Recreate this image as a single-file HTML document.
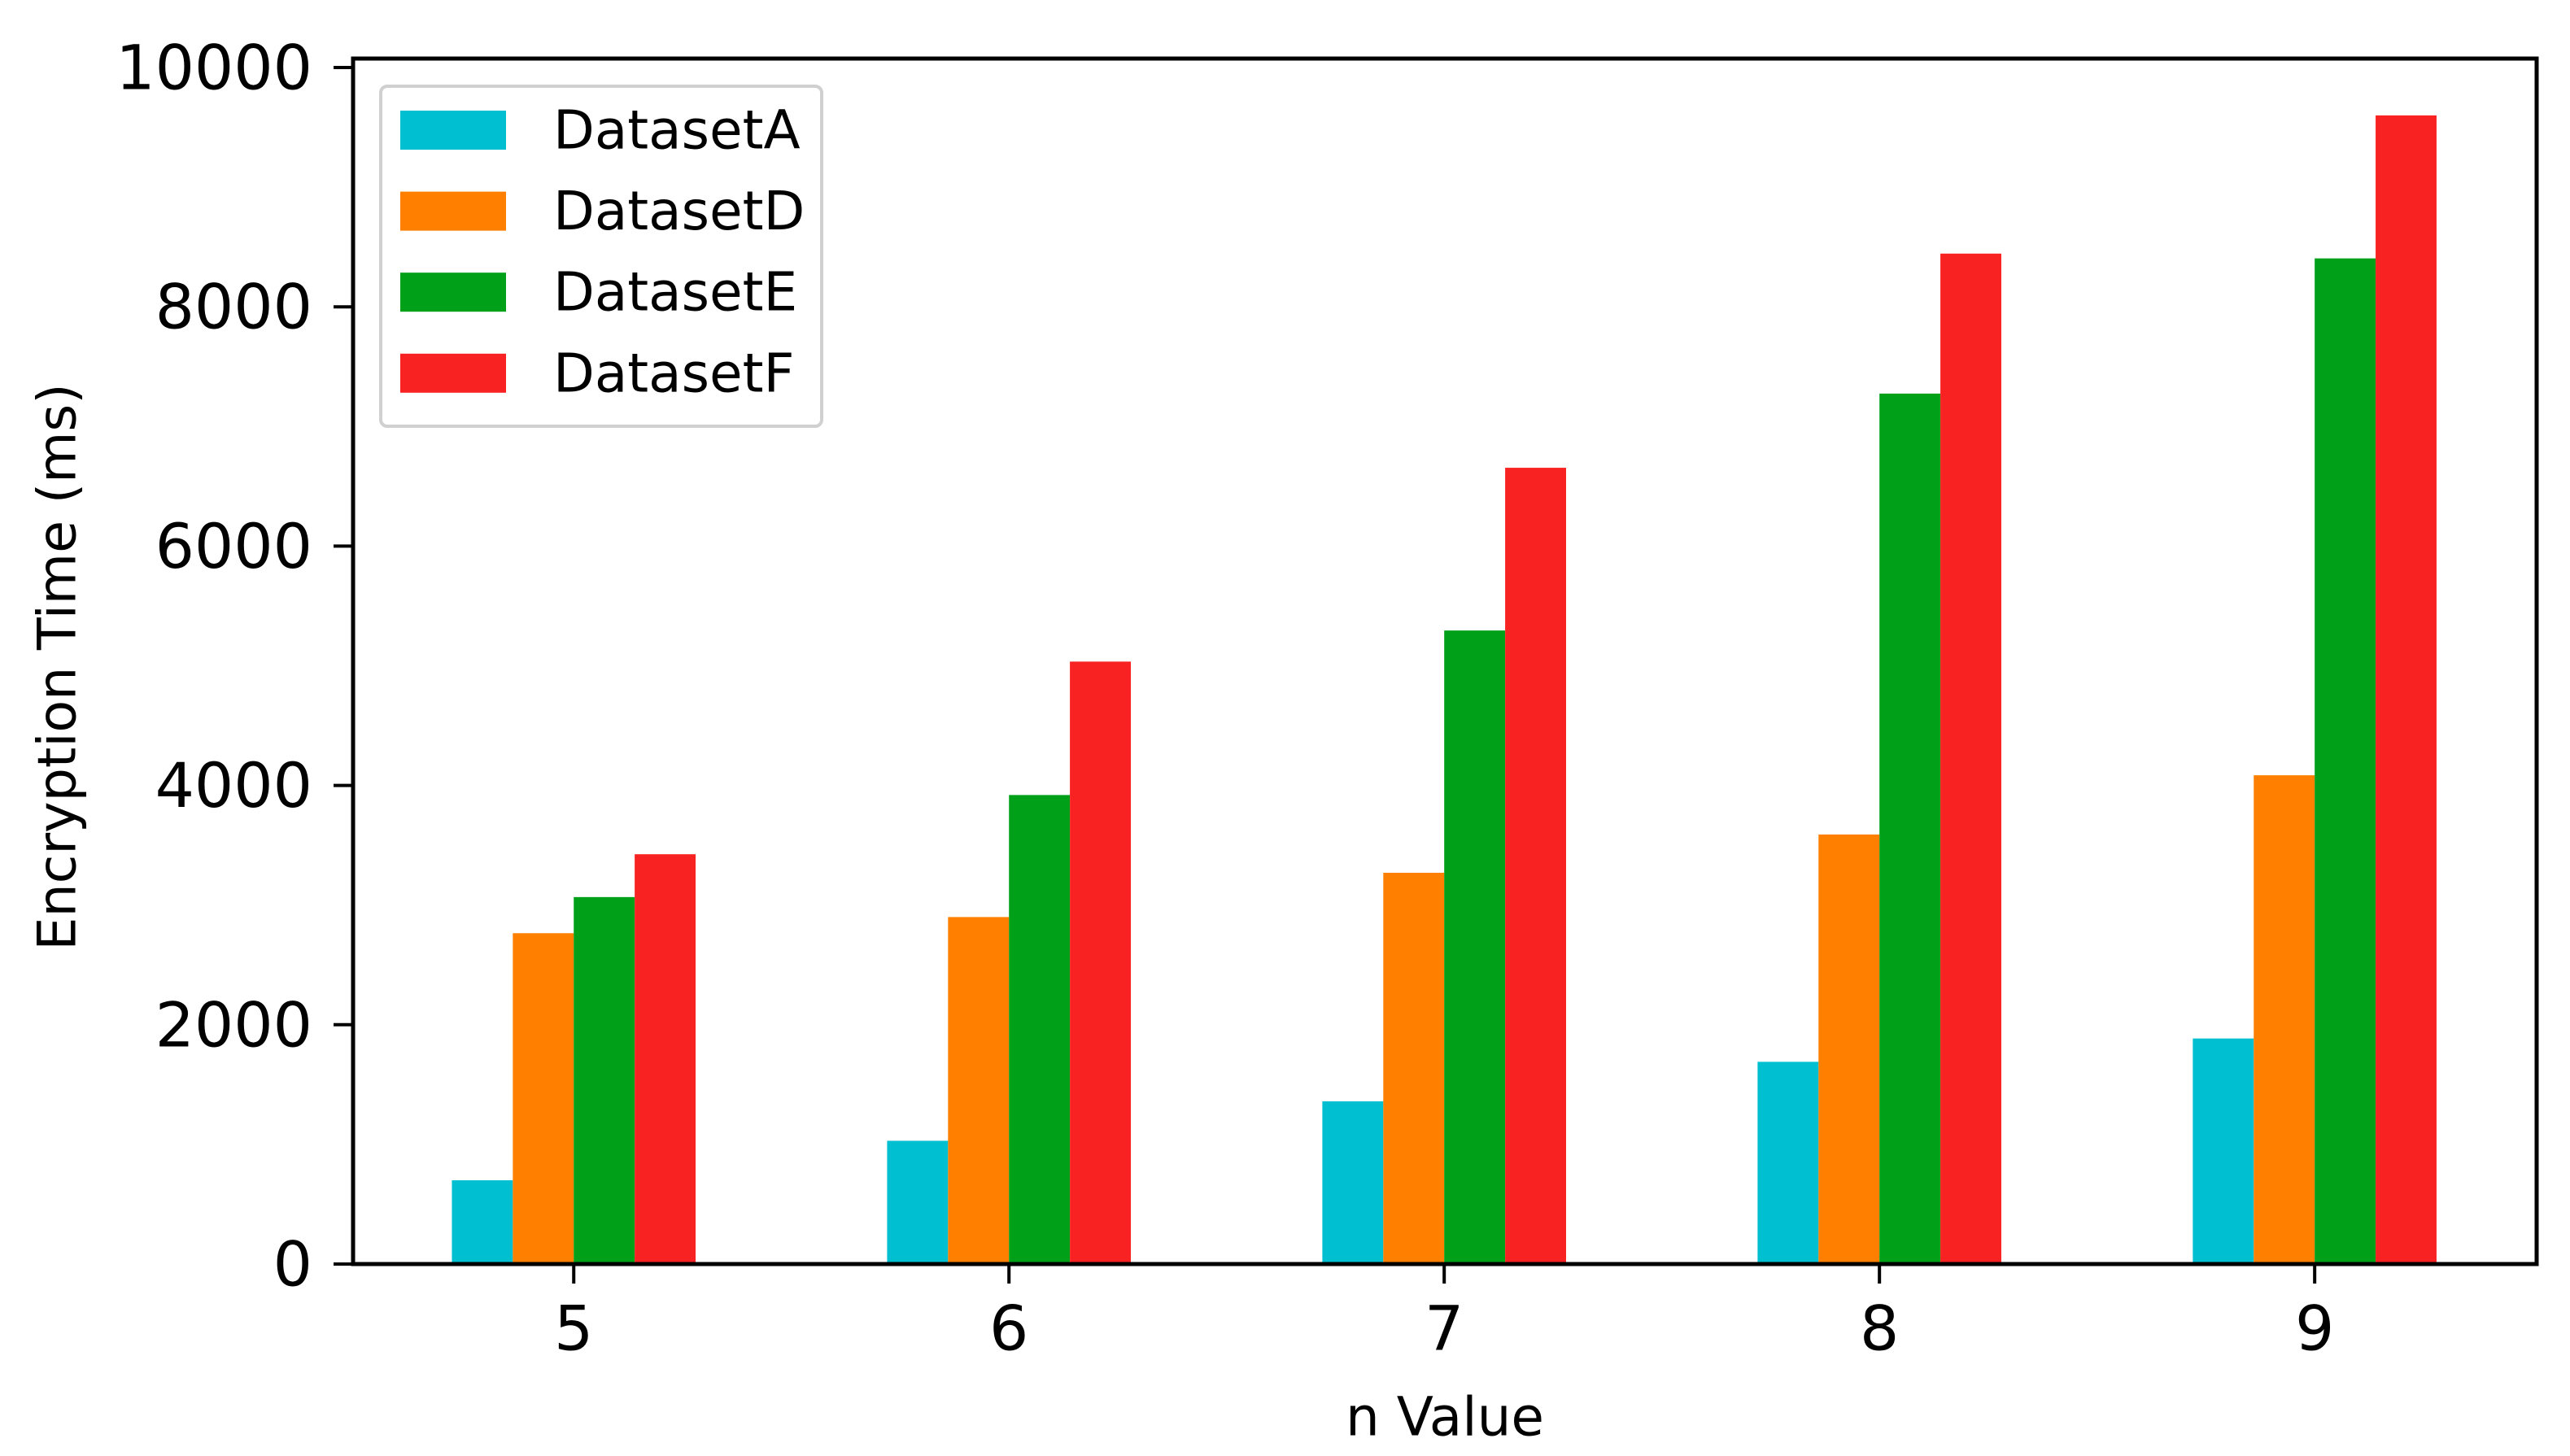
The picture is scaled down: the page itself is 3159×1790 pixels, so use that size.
<!DOCTYPE html>
<html><head><meta charset="utf-8">
<style>
html,body{margin:0;padding:0;background:#fff;}
svg{display:block;font-family:"DejaVu Sans","Liberation Sans",sans-serif;}
</style></head>
<body>
<svg id="chart" width="3159" height="1790" viewBox="0 0 3159 1790">
<rect x="0" y="0" width="3159" height="1790" fill="#fff"/>
<g id="bars"></g>
<g id="axes"></g>
<g id="legend"></g>
<text x="71" y="820" font-size="65" text-anchor="middle" dominant-baseline="central" transform="rotate(-90 71 820)">Encryption Time (ms)</text>
<text x="1776" y="1742" font-size="66" text-anchor="middle" dominant-baseline="central">n Value</text>
</svg>
<script>
const categories = [5, 6, 7, 8, 9];
const seriesNames = ["DatasetA", "DatasetD", "DatasetE", "DatasetF"];
const datasetA = [700, 1030, 1360, 1690, 1885];
const datasetD = [2765, 2900, 3270, 3590, 4085];
const datasetE = [3067, 3920, 5295, 7275, 8405];
const datasetF = [3425, 5035, 6655, 8445, 9600];
const yTicks = [0, 2000, 4000, 6000, 8000, 10000];
const colors = ["#00bfd0", "#ff8000", "#00a018", "#f82222"];

const NS = "http://www.w3.org/2000/svg";
const plotLeft = 434, plotRight = 3118, plotTop = 72, plotBottom = 1554;
const xMin = 4.493, xMax = 9.51, yMin = 0, yMax = 10075;
function xs(v){ return plotLeft + (v - xMin) / (xMax - xMin) * (plotRight - plotLeft); }
function ys(v){ return plotBottom - (v - yMin) / (yMax - yMin) * (plotBottom - plotTop); }
function mk(tag, attrs, parent){ const e = document.createElementNS(NS, tag); for (const k in attrs) e.setAttribute(k, attrs[k]); parent.appendChild(e); return e; }

const series = [datasetA, datasetD, datasetE, datasetF];
const barW = 0.14;
const gb = document.getElementById("bars");
series.forEach((vals, s) => {
  vals.forEach((v, i) => {
    const x0 = xs(categories[i] + (s - 2) * barW);
    const x1 = xs(categories[i] + (s - 1) * barW);
    const r = mk("rect", {x: x0, y: ys(v), width: x1 - x0, height: ys(0) - ys(v), fill: colors[s]}, gb);
    
    
  });
});

const ga = document.getElementById("axes");
const frame = mk("rect", {x: plotLeft, y: plotTop, width: plotRight - plotLeft, height: plotBottom - plotTop, fill: "none", stroke: "#000", "stroke-width": 5}, ga);


yTicks.forEach(t => {
  const y = ys(t);
  const tk = mk("line", {x1: plotLeft - 24, x2: plotLeft, y1: y, y2: y, stroke: "#000", "stroke-width": 4}, ga);
  
  
  const lb = mk("text", {x: plotLeft - 50, y: y, "font-size": 76, "text-anchor": "end", "dominant-baseline": "central"}, ga);
  lb.textContent = t;
  
  
});
categories.forEach(c => {
  const x = xs(c);
  const tk = mk("line", {x1: x, x2: x, y1: plotBottom, y2: plotBottom + 24, stroke: "#000", "stroke-width": 4}, ga);
  
  
  const lb = mk("text", {x: x, y: 1633, "font-size": 76, "text-anchor": "middle", "dominant-baseline": "central"}, ga);
  lb.textContent = c;
  
  
});

const gl = document.getElementById("legend");
const box = mk("rect", {x: 468, y: 106, width: 542, height: 418, rx: 8, fill: "#fff", stroke: "#d0d0d0", "stroke-width": 4}, gl);


seriesNames.forEach((n, s) => {
  const cy = 160 + s * 99.6;
  const sw = mk("rect", {x: 492, y: cy - 24, width: 130, height: 48, fill: colors[s]}, gl);
  
  
  const t = mk("text", {x: 680, y: cy, "font-size": 66, "dominant-baseline": "central"}, gl);
  t.textContent = n;
  
  
});
</script>
</body></html>
